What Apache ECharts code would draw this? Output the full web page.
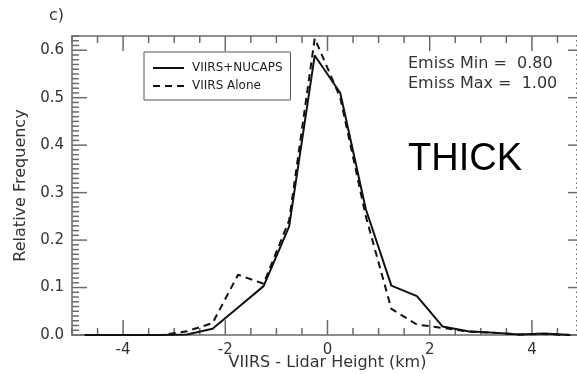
<!DOCTYPE html>
<html>
<head>
<meta charset="utf-8">
<script src="https://cdn.jsdelivr.net/npm/echarts@6/dist/echarts.min.js"></script>
<style>
  html, body { margin: 0; padding: 0; background: #fff; }
  #chart { width: 577px; height: 374px; }
</style>
</head>
<body>
<div id="chart"></div>
<script>
// Histogram bin centres (km), 0.5 km bins
const binCenters = [-4.75, -4.25, -3.75, -3.25, -2.75, -2.25, -1.75, -1.25, -0.75, -0.25,
                     0.25,  0.75,  1.25,  1.75,  2.25,  2.75,  3.25,  3.75,  4.25,  4.75];
// Relative frequency, VIIRS+NUCAPS retrieval
const nucapsFreq = [0, 0, 0, 0, 0.001, 0.013, 0.058, 0.103, 0.229, 0.589,
                    0.51, 0.265, 0.104, 0.082, 0.018, 0.008, 0.005, 0.001, 0.003, 0];
// Relative frequency, VIIRS alone
const aloneFreq  = [0, 0, 0, 0, 0.008, 0.025, 0.127, 0.108, 0.242, 0.625,
                    0.50, 0.25, 0.055, 0.022, 0.015, 0.007, 0.005, 0.001, 0.002, 0];

const seriesNames = ['VIIRS+NUCAPS', 'VIIRS Alone'];

// Tick labels
const xTickLabels = ['-4', '-2', '0', '2', '4'];
const yTickLabels = ['0.0', '0.1', '0.2', '0.3', '0.4', '0.5', '0.6'];

const X_MIN = -5, X_MAX = 5, Y_MIN = 0, Y_MAX = 0.63;

// Tick positions: x every 0.5 km (major every 2 km), y every 0.01 (major every 0.1)
const xTickPos = [];
for (let i = 0; i <= 20; i++) xTickPos.push((X_MIN + i * 0.5).toString());
const yTickPos = [];
for (let i = 0; i <= 63; i++) yTickPos.push((i / 100).toFixed(2));

const isXMajor = v => xTickLabels.indexOf(String(parseFloat(v))) >= 0;
const isYMajor = v => {
  const f = parseFloat(v);
  return Math.abs(f * 10 - Math.round(f * 10)) < 1e-6;
};

// Frame tick marks: [side, value, isMajor]; side 0 bottom, 1 top, 2 left, 3 right
const frameTicks = [];
xTickPos.forEach(v => {
  frameTicks.push([0, parseFloat(v), isXMajor(v) ? 1 : 0]);
  frameTicks.push([1, parseFloat(v), isXMajor(v) ? 1 : 0]);
});
yTickPos.forEach(v => {
  frameTicks.push([2, parseFloat(v), isYMajor(v) ? 1 : 0]);
  frameTicks.push([3, parseFloat(v), isYMajor(v) ? 1 : 0]);
});

const FONT = 'DejaVu Sans';
const AXIS_COLOR = '#6a6a6a';
const TEXT_COLOR = '#333';
const MAJOR_LEN = 15, MINOR_LEN = 7;

// Category axes draw the frame lines, labels and names; hidden value axes carry the data.
function frameAxis(kind, position, withLabels) {
  const test = kind === 'x' ? isXMajor : isYMajor;
  const a = {
    type: 'category', data: kind === 'x' ? xTickPos : yTickPos, boundaryGap: false, position,
    axisLine: { show: true, onZero: false, lineStyle: { color: AXIS_COLOR, width: 1.5 } },
    axisTick: { show: false },
    axisLabel: { show: false }, splitLine: { show: false }
  };
  if (withLabels) {
    a.axisLabel = {
      show: true, interval: (i, v) => test(v),
      formatter: v => kind === 'x' ? String(parseFloat(v)) : parseFloat(v).toFixed(1),
      fontSize: 15, fontFamily: FONT, color: TEXT_COLOR
    };
    a.name = kind === 'x' ? 'VIIRS - Lidar Height (km)' : 'Relative Frequency';
    a.nameLocation = 'middle';
    a.nameGap = kind === 'x' ? 20 : 43;
    a.nameMoveOverlap = false;
    a.nameTextStyle = { fontSize: 16, fontFamily: FONT, color: TEXT_COLOR };
  }
  return a;
}
function dataAxis(kind) {
  return { type: 'value', show: false, position: kind === 'x' ? 'bottom' : 'left',
    min: kind === 'x' ? X_MIN : Y_MIN, max: kind === 'x' ? X_MAX : Y_MAX,
    axisLine: { onZero: false } };
}

// Draws one inward tick mark at the frame, placed through the value axes' scales.
function renderTick(params, api) {
  const side = api.value(0), v = api.value(1);
  const len = api.value(2) ? MAJOR_LEN : MINOR_LEN;
  let p, shape;
  if (side === 0) { p = api.coord([v, Y_MIN]); shape = { x1: p[0], y1: p[1], x2: p[0], y2: p[1] - len }; }
  else if (side === 1) { p = api.coord([v, Y_MAX]); shape = { x1: p[0], y1: p[1], x2: p[0], y2: p[1] + len }; }
  else if (side === 2) { p = api.coord([X_MIN, v]); shape = { x1: p[0], y1: p[1], x2: p[0] + len, y2: p[1] }; }
  else { p = api.coord([X_MAX, v]); shape = { x1: p[0], y1: p[1], x2: p[0] - len, y2: p[1] }; }
  return { type: 'line', shape: shape, style: { stroke: AXIS_COLOR, lineWidth: 1.5 } };
}

const chart = echarts.init(document.getElementById('chart'));
chart.setOption({
  animation: false,
  grid: { left: 72, top: 36, width: 511, height: 299, outerBoundsMode: 'none' },
  xAxis: [dataAxis('x'), frameAxis('x', 'bottom', true), frameAxis('x', 'top', false)],
  yAxis: [dataAxis('y'), frameAxis('y', 'left', true), frameAxis('y', 'right', false)],
  legend: {
    left: 144, top: 52, orient: 'vertical', data: seriesNames,
    borderColor: '#555', borderWidth: 1, padding: [10, 8, 8, 8],
    itemWidth: 31, itemHeight: 14, itemGap: 6,
    itemStyle: { opacity: 0 },
    textStyle: { fontFamily: FONT, fontSize: 12, color: '#222', padding: [0, 0, 0, 3] }
  },
  series: [
    { type: 'custom', xAxisIndex: 0, yAxisIndex: 0, silent: true, clip: false,
      renderItem: renderTick, data: frameTicks, z: 1 },
    { name: seriesNames[0], type: 'line', xAxisIndex: 0, yAxisIndex: 0, symbol: 'none',
      lineStyle: { color: '#111', width: 2, type: 'solid' }, itemStyle: { color: '#111' },
      data: binCenters.map((x, i) => [x, nucapsFreq[i]]) },
    { name: seriesNames[1], type: 'line', xAxisIndex: 0, yAxisIndex: 0, symbol: 'none',
      lineStyle: { color: '#111', width: 2, type: [7, 5] }, itemStyle: { color: '#111' },
      data: binCenters.map((x, i) => [x, aloneFreq[i]]) }
  ],
  graphic: [
    { type: 'text', left: 49, top: 8,
      style: { text: 'c)', font: '16px "DejaVu Sans"', fill: TEXT_COLOR } },
    { type: 'text', left: 408, top: 54,
      style: { text: 'Emiss Min =  0.80\nEmiss Max =  1.00', font: '16px "DejaVu Sans"',
               lineHeight: 20, fill: TEXT_COLOR } },
    { type: 'text', left: 408, top: 141,
      style: { text: 'THICK', font: '38px "Liberation Sans"', fill: '#000' } }
  ]
});
</script>
</body>
</html>
